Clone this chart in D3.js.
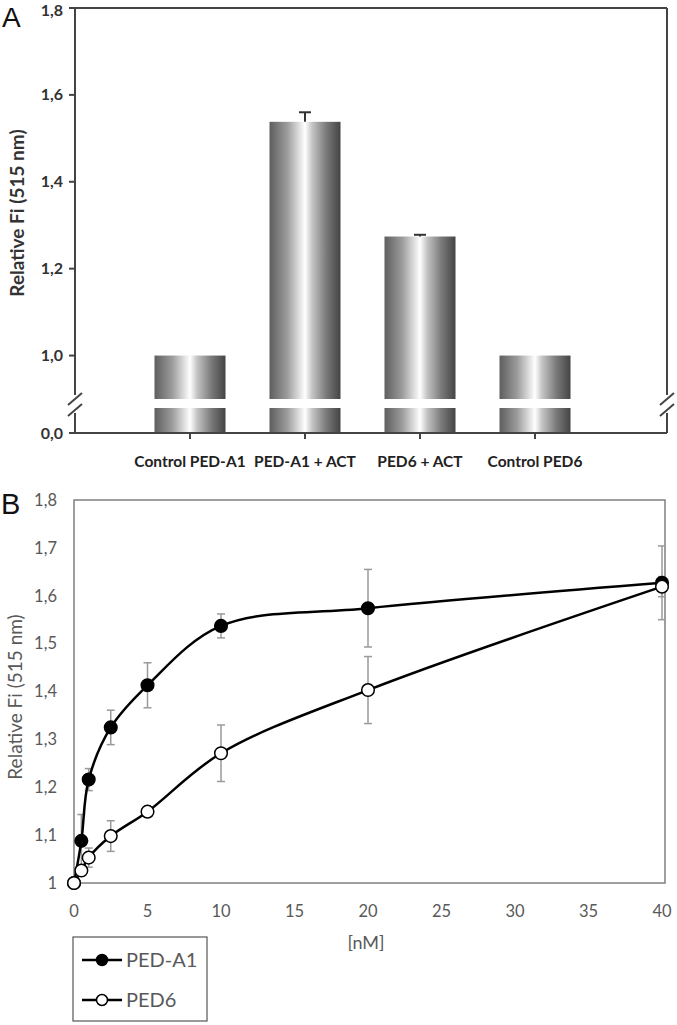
<!DOCTYPE html>
<html><head><meta charset="utf-8">
<script src="https://cdn.jsdelivr.net/npm/d3@7"></script>
<style>body{margin:0;background:#fff}svg{display:block}</style>
</head><body>
<svg id="c" width="677" height="1025"></svg>
<script>
// ---- Panel A data ----
const categories = ["Control PED-A1","PED-A1 + ACT","PED6 + ACT","Control PED6"];
const barValues = [1.0, 1.538, 1.274, 1.0];
const barErrors = [0, 0.022, 0.004, 0];
const aTicksUpper = [1.0, 1.2, 1.4, 1.6, 1.8];
const aTicksLower = [0.0];
// ---- Panel B data ----
const concentrations = [0, 0.5, 1, 2.5, 5, 10, 20, 40];
const pedA1 = [1.0, 1.088, 1.216, 1.325, 1.413, 1.537, 1.574, 1.627];
const pedA1Err = [0, 0.055, 0.023, 0.036, 0.047, 0.025, 0.081, 0.077];
const ped6 = [1.0, 1.026, 1.053, 1.098, 1.149, 1.271, 1.403, 1.619];
const ped6Err = [0, 0.008, 0.02, 0.032, 0, 0.059, 0.07, 0.021];
const bYTicks = [1, 1.1, 1.2, 1.3, 1.4, 1.5, 1.6, 1.7, 1.8];
const bXTicks = [0, 5, 10, 15, 20, 25, 30, 35, 40];
const seriesNames = ["PED-A1", "PED6"];

const svg = d3.select("#c");
const fmt = d => d === 1 ? "1" : d3.format(".1f")(d).replace(".", ",");
const fmtA = d => d3.format(".1f")(d).replace(".", ",");

// gradient
const defs = svg.append("defs");
const g = defs.append("linearGradient").attr("id","bar").attr("x1","0").attr("x2","1").attr("y1","0").attr("y2","0");
[[0,"#5e5e5e"],[0.25,"#9c9c9c"],[0.5,"#ffffff"],[0.6,"#c4c4c4"],[0.8,"#7a7a7a"],[1,"#444444"]]
  .forEach(([o,c]) => g.append("stop").attr("offset",o).attr("stop-color",c));

// ================= Panel A =================
const A = svg.append("g");
const axL = 75, axR = 667, aTop = 8, aBot = 433, brkHi = 399, brkLo = 408;
const yUp = d3.scaleLinear().domain([0.9, 1.8]).range([brkHi, aTop]);
const yLow = d3.scaleLinear().domain([0, 0.06]).range([aBot, brkLo]);
const xA = d3.scalePoint().domain(categories).range([190, 535]);
const bw = 71;
const axisCol = "#444";

// bars
categories.forEach((c, i) => {
  const x0 = xA(c) - bw/2;
  A.append("rect").attr("x", x0).attr("width", bw)
    .attr("y", yUp(barValues[i])).attr("height", yUp(0.9) - yUp(barValues[i]))
    .attr("fill", "url(#bar)");
  A.append("rect").attr("x", x0).attr("width", bw)
    .attr("y", yLow(0.06)).attr("height", yLow(0) - yLow(0.06))
    .attr("fill", "url(#bar)");
  if (barErrors[i] > 0) {
    const yt = yUp(barValues[i] + barErrors[i]);
    A.append("line").attr("x1", xA(c)).attr("x2", xA(c)).attr("y1", yt).attr("y2", yUp(barValues[i]))
      .attr("stroke", "#333").attr("stroke-width", 2);
    A.append("line").attr("x1", xA(c)-6).attr("x2", xA(c)+6).attr("y1", yt).attr("y2", yt)
      .attr("stroke", "#333").attr("stroke-width", 2);
  }
});

// frame
const lineA = (x1,y1,x2,y2) => A.append("line").attr("x1",x1).attr("y1",y1).attr("x2",x2).attr("y2",y2)
  .attr("stroke",axisCol).attr("stroke-width",2);
lineA(axL, aTop, axR, aTop);
lineA(axL, aTop, axL, brkHi - 4);
lineA(axL, brkLo + 5, axL, aBot);
lineA(axR, aTop, axR, brkHi - 4);
lineA(axR, brkLo + 5, axR, aBot);
lineA(axL, aBot, axR, aBot);
// break slashes
[axL, axR].forEach(x => {
  lineA(x - 7, brkHi + 6, x + 7, brkHi - 6);
  lineA(x - 7, brkLo + 8, x + 7, brkLo - 4);
});

// y ticks
const tickA = (y, label) => {
  lineA(axL - 6, y, axL, y);
  A.append("text").attr("x", axL - 12).attr("y", Math.max(y, 10)).attr("dy", "0.35em").attr("text-anchor", "end")
    .attr("font-family", "Lato").attr("font-weight", "bold").attr("font-size", 16).attr("fill", "#333").text(label);
};
aTicksUpper.forEach(v => tickA(yUp(v), fmtA(v)));
aTicksLower.forEach(v => tickA(yLow(v), fmtA(v)));

// x ticks
categories.forEach(c => {
  lineA(xA(c), aBot, xA(c), aBot + 6);
  A.append("text").attr("x", xA(c)).attr("y", 467).attr("text-anchor", "middle")
    .attr("font-family", "Lato").attr("font-weight", "bold").attr("font-size", 15.5).attr("fill", "#222").text(c);
});

A.append("text").attr("transform", "translate(24,213) rotate(-90)").attr("text-anchor", "middle")
  .attr("font-family", "Lato").attr("font-weight", "bold").attr("font-size", 19).attr("fill", "#333")
  .text("Relative Fi (515 nm)");
A.append("text").attr("x", 2).attr("y", 27).attr("font-family", "Liberation Sans").attr("font-size", 28)
  .attr("fill", "#111").text("A");

// ================= Panel B =================
const B = svg.append("g");
const xB = d3.scaleLinear().domain([0, 40]).range([74, 662]);
const yB = d3.scaleLinear().domain([1, 1.8]).range([883, 500]);
const gray = "#595959";

B.append("rect").attr("x", 74).attr("y", 500).attr("width", 665 - 74).attr("height", 383)
  .attr("fill", "none").attr("stroke", "#7f7f7f").attr("stroke-width", 1.5);

bYTicks.forEach(v => {
  B.append("text").attr("x", 57).attr("y", yB(v)).attr("dy", "0.35em").attr("text-anchor", "end")
    .attr("font-family", "Lato").attr("font-size", 16.5).attr("fill", gray).text(fmt(v));
});
bXTicks.forEach(v => {
  B.append("text").attr("x", xB(v)).attr("y", 917).attr("text-anchor", "middle")
    .attr("font-family", "Lato").attr("font-size", 16.5).attr("fill", gray).text(v);
});
B.append("text").attr("x", 366).attr("y", 949).attr("text-anchor", "middle")
  .attr("font-family", "Lato").attr("font-size", 18).attr("fill", gray).text("[nM]");
B.append("text").attr("transform", "translate(22,697) rotate(-90)").attr("text-anchor", "middle")
  .attr("font-family", "Lato").attr("font-size", 19).attr("fill", gray).text("Relative Fi (515 nm)");
B.append("text").attr("x", 1).attr("y", 514).attr("font-family", "Liberation Sans").attr("font-size", 29)
  .attr("fill", "#111").text("B");

const series = [
  {name: seriesNames[0], vals: pedA1, err: pedA1Err, fill: "#000"},
  {name: seriesNames[1], vals: ped6, err: ped6Err, fill: "#fff"}
];
// error bars
series.forEach(s => {
  concentrations.forEach((c, i) => {
    if (!s.err[i]) return;
    const x = xB(c), y1 = yB(s.vals[i] + s.err[i]), y2 = yB(s.vals[i] - s.err[i]);
    const eb = B.append("g").attr("stroke", "#9a9a9a").attr("stroke-width", 1.5);
    eb.append("line").attr("x1", x).attr("x2", x).attr("y1", y1).attr("y2", y2);
    eb.append("line").attr("x1", x-4).attr("x2", x+4).attr("y1", y1).attr("y2", y1);
    eb.append("line").attr("x1", x-4).attr("x2", x+4).attr("y1", y2).attr("y2", y2);
  });
});
const line = d3.line().x(d => xB(d[0])).y(d => yB(d[1])).curve(d3.curveCatmullRom.alpha(0.5));
series.forEach(s => {
  B.append("path").attr("d", line(concentrations.map((c, i) => [c, s.vals[i]])))
    .attr("fill", "none").attr("stroke", "#000").attr("stroke-width", 2.5);
});
series.forEach(s => {
  concentrations.forEach((c, i) => {
    B.append("circle").attr("cx", xB(c)).attr("cy", yB(s.vals[i])).attr("r", 6.3)
      .attr("fill", s.fill).attr("stroke", "#000").attr("stroke-width", 1.5);
  });
});

// legend
const L = svg.append("g");
L.append("rect").attr("x", 73).attr("y", 937).attr("width", 134).attr("height", 84)
  .attr("fill", "#fff").attr("stroke", "#555").attr("stroke-width", 1.2);
series.forEach((s, i) => {
  const y = 960 + i * 40;
  L.append("line").attr("x1", 82).attr("x2", 122).attr("y1", y).attr("y2", y)
    .attr("stroke", "#000").attr("stroke-width", 2.5);
  L.append("circle").attr("cx", 102).attr("cy", y).attr("r", 5.5)
    .attr("fill", s.fill).attr("stroke", "#000").attr("stroke-width", 1.5);
  L.append("text").attr("x", 126).attr("y", y).attr("dy", "0.36em")
    .attr("font-family", "Lato").attr("font-size", 20).attr("fill", gray).text(s.name);
});
</script>
</body></html>
